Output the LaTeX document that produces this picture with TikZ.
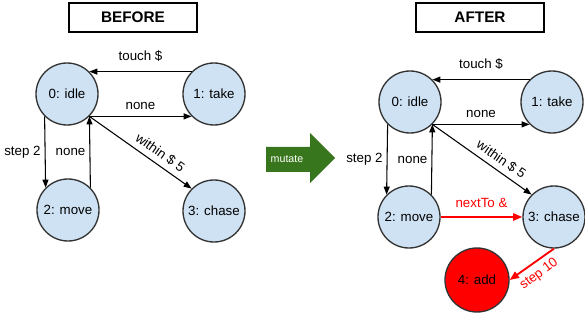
\documentclass[tikz,border=0pt]{standalone}
\usepackage{fontspec}
\setmainfont{Liberation Sans}
\usetikzlibrary{arrows.meta}

\definecolor{stateblue}{RGB}{207,226,243}
\definecolor{mutgreen}{RGB}{56,118,29}
\definecolor{rimgray}{RGB}{51,51,51}

\tikzset{every picture/.style={line width=0.75pt}}
\tikzset{
  state/.style={circle, draw=rimgray, fill=stateblue, line width=1pt, minimum size=46.5pt, inner sep=0pt, font=\fontsize{10}{12}\selectfont},
  addstate/.style={state, fill=red, minimum size=48pt},
  edge/.style={draw=black, line width=0.8pt, -{Triangle[length=6pt,width=4.5pt]}},
  redge/.style={draw=red, line width=1.4pt, -{Triangle[length=7pt,width=5.5pt]}},
  lbl/.style={font=\fontsize{10}{12}\selectfont, inner sep=1pt},
  titlebox/.style={draw=black, line width=0.8pt, minimum width=96pt, minimum height=21.75pt, font=\bfseries\fontsize{11.5}{13}\selectfont}
}

\begin{document}
\begin{tikzpicture}[x=0.75pt,y=0.75pt,yscale=-1,xscale=1]
	\useasboundingbox (0,0) rectangle (585,320);

	% Title Boxes
	\node [titlebox] (tbefore) at (133,17.5) {BEFORE};
	\node [titlebox] (tafter) at (480,17.5) {AFTER};

	%Circles (before)
	\node [state] (b0) at (67,94) {0: idle};
	\node [state] (b1) at (214,94) {1: take};
	\node [state] (b2) at (68,210) {2: move};
	\node [state] (b3) at (214,211) {3: chase};

	%Circles (after)
	\node [state] (a0) at (410,102) {0: idle};
	\node [state] (a1) at (552,102) {1: take};
	\node [state] (a2) at (409,217) {2: move};
	\node [state] (a3) at (554,217) {3: chase};
	\node [addstate] (a4) at (477,280) {4: add};

	%Straight Lines (before)
	\draw [edge] (b1.135) -- (b0.45) node [lbl, midway, above=6] {touch \$};
	\draw [edge] (b0.-45) -- (b1.-135) node [lbl, midway, above=4] {none};
	\draw [edge] (b0.-45) -- (b3.135) node [lbl, pos=0.63, anchor=south, rotate=-35, inner sep=4pt] {within \$ 5};
	\draw [edge] (b0.-135) -- (b2.135) node [lbl, pos=0.5, left=2] {step 2};
	\draw [edge] (b2.45) -- (b0.-45) node [lbl, pos=0.5, left=2] {none};

	%Straight Lines (after)
	\draw [edge] (a1.135) -- (a0.45) node [lbl, midway, above=6] {touch \$};
	\draw [edge] (a0.-45) -- (a1.-135) node [lbl, midway, above=4] {none};
	\draw [edge] (a0.-45) -- (a3.135) node [lbl, pos=0.63, anchor=south, rotate=-35, inner sep=4pt] {within \$ 5};
	\draw [edge] (a0.-135) -- (a2.135) node [lbl, pos=0.5, left=2] {step 2};
	\draw [edge] (a2.45) -- (a0.-45) node [lbl, pos=0.5, left=2] {none};
	\draw [redge] (a2.east) -- (a3.west) node [lbl, midway, above=5, text=red] {nextTo \&};
	\draw [redge] (a3.south) -- (a4.east) node [lbl, midway, anchor=north, rotate=37, inner sep=4pt, text=red] {step 10};

	%Mutate Arrow
	\fill [mutgreen] (266,147) -- (310,147) -- (310,133) -- (335,158) -- (310,183) -- (310,172) -- (266,172) -- cycle;
	\node [text=white, font=\fontsize{8}{10}\selectfont] (mutate) at (287,159.5) {mutate};

\end{tikzpicture}
\end{document}
